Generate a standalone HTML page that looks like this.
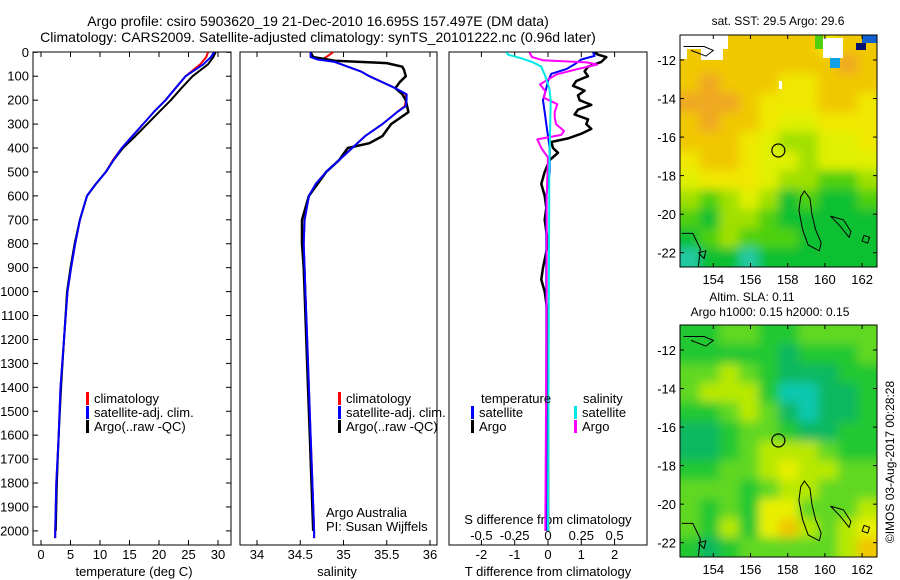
<!DOCTYPE html>
<html><head><meta charset="utf-8"><style>
body{margin:0;background:#fff}
svg{display:block;font-family:"Liberation Sans",sans-serif}
</style></head><body>
<svg id="c" width="900" height="580" viewBox="0 0 900 580">
<defs>
<filter id="blur" x="-10%" y="-10%" width="120%" height="120%"><feGaussianBlur stdDeviation="5"/></filter>
<clipPath id="clipTop"><rect x="680" y="35" width="197" height="232"/></clipPath>
<clipPath id="clipBot"><rect x="680" y="325" width="197" height="232"/></clipPath>
</defs>
<g id="root"></g>
</svg>
<script>
// ---- data ----
const tDepth=[0,20,50,100,150,200,250,300,350,400,450,500,550,600,700,800,900,1000,1200,1400,1600,1800,2000,2030];
const tClim=[28.3,28.0,27.0,24.5,22.8,21.1,19.1,17.3,15.5,13.7,12.2,11,9.3,7.8,6.6,5.8,5.1,4.5,3.9,3.3,3.0,2.6,2.4,2.4];
const tSat=[29.3,28.8,27.5,24.5,22.8,21.1,19.1,17.3,15.5,13.7,12.3,11,9.3,7.8,6.6,5.8,5.1,4.5,3.9,3.3,3.0,2.6,2.4,2.4];
const tArgo=[29.6,29.2,28.3,25.7,23.8,22,20,18,16,13.9,12.3,11,9.3,7.8,6.6,5.7,5.0,4.4,3.9,3.4,3.0,2.7,2.5];
const sDepth=[0,20,30,40,60,80,100,125,150,175,200,225,250,300,350,400,450,500,550,600,700,800,900,1000,1200,1400,1600,1800,2000,2030];
const sClim=[34.88,34.8,34.75,34.9,35.05,35.2,35.3,35.45,35.6,35.72,35.72,35.71,35.62,35.45,35.25,35.1,34.95,34.8,34.68,34.6,34.55,34.54,34.55,34.56,34.58,34.6,34.62,34.64,34.66,34.66];
const sSat=[34.62,34.62,34.7,34.9,35.05,35.2,35.3,35.45,35.6,35.73,35.73,35.72,35.62,35.45,35.25,35.1,34.95,34.8,34.68,34.6,34.55,34.54,34.55,34.56,34.58,34.6,34.62,34.64,34.66,34.66];
const saDepth=[0,20,35,45,60,75,100,125,150,175,200,250,300,350,380,400,450,500,550,600,700,800,900,1000,1200,1400,1600,1800,2000];
const sArgo=[34.62,34.65,34.9,35.5,35.68,35.7,35.72,35.65,35.6,35.68,35.72,35.75,35.55,35.45,35.3,35.05,34.95,34.8,34.7,34.6,34.52,34.52,34.54,34.55,34.57,34.59,34.61,34.63,34.65];
const dtArgoDepth=[0,10,20,40,60,80,100,120,140,160,180,200,220,240,260,280,300,320,340,360,375,400,420,450,500,550,600,650,700,800,900,950,1000,1100,1400,2000];
const dtArgo=[1.4,1.5,1.75,1.6,1.2,1.1,1.2,0.85,0.75,1.1,0.9,0.95,1.3,0.9,0.8,1.2,1.15,1.3,1.0,0.6,0.1,0.15,0.3,0.05,-0.1,-0.2,-0.1,-0.05,-0.1,0,-0.15,-0.2,-0.1,0,0,0];
const dtSatDepth=[0,15,30,50,70,90,120,150,200,250,300,400,500,600,1000,1500,2000];
const dtSat=[1.35,1.4,1.0,0.8,0.55,0.1,0,-0.05,-0.15,-0.1,-0.05,0.05,0.05,-0.05,-0.05,-0.05,-0.05];
const dsSatDepth=[0,10,25,40,60,100,150,200,500,2000];
const dsSat=[-0.31,-0.3,-0.2,-0.12,-0.05,-0.02,0.01,0.02,0.01,0];
const dsArgoDepth=[0,20,33,42,51,70,92,134,162,190,217,250,273,300,329,345,364,400,440,600,1000,2000];
const dsArgo=[-0.14,-0.12,-0.04,0.29,0.37,0.22,0.065,-0.06,-0.02,-0.03,0.07,0.05,0.05,0.06,0.12,0.1,-0.08,-0.05,0,-0.01,-0.01,-0.02];
const depthTicks=[0,100,200,300,400,500,600,700,800,900,1000,1100,1200,1300,1400,1500,1600,1700,1800,1900,2000];
const tTicks=[0,5,10,15,20,25,30];
const sTicks=[34,34.5,35,35.5,36];
const dTTicks=[-2,-1,0,1,2];
const dSTicks=[-0.5,-0.25,0,0.25,0.5];
const lonTicks=[154,156,158,160,162];
const latTicks=[-12,-14,-16,-18,-20,-22];
const sstGrid=[
[6,6,6,6,6,6,6,5,6,6],[6,6,6,6,6,6,6,6,7,6],[6,7,6,6,6,5,5,6,6,6],[7,7,7,6,5,5,5,6,6,5],
[6,7,6,6,5,4,4,5,5,5],[6,6,6,5,4,3,3,4,4,5],[5,6,6,5,4,4,3,4,4,4],[4,5,5,5,4,3,3,2,2,3],
[3,2,3,4,3,1,2,1,1,2],[2,1,3,3,2,1,1,1,1,1],[1,2,3,2,2,2,1,1,1,1],[0,1,1,0,1,1,1,1,1,1]];
const slaGrid=[
[2,2,3,3,2,2,3,3,3,3],[2,2,2,2,2,1,2,2,2,3],[3,3,4,3,2,1,1,1,2,2],[3,4,4,4,2,0,0,1,1,2],
[2,2,3,4,3,1,0,1,1,2],[1,1,2,3,3,2,1,1,2,2],[1,1,2,3,4,4,4,3,2,2],[2,2,3,3,4,5,4,4,3,3],
[3,3,3,2,3,4,4,3,3,3],[3,2,3,2,5,5,3,3,3,4],[3,2,4,2,5,6,4,3,4,5],[2,1,2,3,3,3,3,3,4,6]];
const sstColors=["#20c8a0","#10c030","#50d010","#a0e000","#e0f000","#f0e800","#f0c800","#f0a820"];
const slaColors=["#10c8b0","#10b860","#20c830","#60d820","#b8e800","#e8f000","#f0c800"];
const profLat=-16.695, profLon=157.497;

// ---- drawing ----
const NS="http://www.w3.org/2000/svg";
const root=document.getElementById('root');
function mk(tag,attrs,parent){const e=document.createElementNS(NS,tag);for(const k in attrs)e.setAttribute(k,attrs[k]);(parent||root).appendChild(e);return e;}
function txt(x,y,s,anchor,size,parent){const e=mk('text',{x:x,y:y,'text-anchor':anchor||'middle','font-size':size||13,fill:'#000'},parent);e.textContent=s;return e;}
const Y=d=>52.3+d*0.2393;
const PB=545;
const xT=v=>41+v*5.9;
const xS=v=>257+(v-34)*86.5;
const xdT=v=>548+v*33.3;
const xdS=v=>548+v*133.2;

function frame(x0,x1,name){const r=mk('rect',{x:x0,y:52,width:x1-x0,height:PB-52,fill:'none',stroke:'#000','stroke-width':1});}
function line(depths,vals,xf,color,w,name){
  const pts=depths.map((d,i)=>xf(vals[i]).toFixed(1)+','+Y(d).toFixed(1)).join(' ');
  const p=mk('polyline',{points:pts,fill:'none',stroke:color,'stroke-width':w,'stroke-linejoin':'round'});
  
}
function xticks(ticks,xf,yLab,name,top){
  const g=mk('g',{});
  ticks.forEach(t=>{const x=xf(t);
    mk('line',{x1:x,x2:x,y1:PB,y2:PB-5,stroke:'#000'},g);
    if(top)mk('line',{x1:x,x2:x,y1:52,y2:57,stroke:'#000'},g);
    txt(x,yLab,String(t),'middle',13,g);});
}
// panel 1
frame(33,231,'temperature-panel');
const yg=mk('g',{});
depthTicks.forEach(d=>{const y=Y(d);mk('line',{x1:33,x2:38,y1:y,y2:y,stroke:'#000'},yg);mk('line',{x1:226,x2:231,y1:y,y2:y,stroke:'#000'},yg);txt(29,y+4.5,String(d),'end',13,yg);});
xticks(tTicks,xT,559,'temperature-x-axis',true);
line(tDepth,tClim,xT,'#ff0000',2,'temp-climatology-line');
line(tDepth.slice(0,tArgo.length),tArgo,xT,'#000',2,'temp-argo-line');
line(tDepth,tSat,xT,'#0000ff',2,'temp-satellite-line');
txt(134,576,'temperature (deg C)','middle',13);
// panel 2
frame(240,437,'salinity-panel');
xticks(sTicks,xS,559,'salinity-x-axis',true);
line(sDepth,sClim,xS,'#ff0000',2,'sal-climatology-line');
line(saDepth,sArgo,xS,'#000',2.5,'sal-argo-line');
line(sDepth,sSat,xS,'#0000ff',2,'sal-satellite-line');
txt(337,576,'salinity','middle',13);
// panel 3
frame(449,647,'difference-panel');
xticks(dTTicks,xdT,559,'t-difference-x-axis',true);
const sg=mk('g',{});
dSTicks.forEach(t=>txt(xdS(t),540,String(t),'middle',13,sg));
txt(548,524,'S difference from climatology','middle',13);
txt(548,576,'T difference from climatology','middle',13);
line(dtArgoDepth,dtArgo,xdT,'#000',2.5,'t-diff-argo-line');
line(dtSatDepth,dtSat,xdT,'#0000ff',2,'t-diff-satellite-line');
line(dsArgoDepth,dsArgo,xdS,'#ff00ff',2,'s-diff-argo-line');
line(dsSatDepth,dsSat,xdS,'#00e8e8',2,'s-diff-satellite-line');
// legends
function legend(x,y,color,label,name){const g=mk('g',{});
  mk('rect',{x:x,y:y-11,width:3,height:13,fill:color},g);txt(x+8,y,label,'start',13,g);}
legend(86,403,'#ff0000','climatology','legend-temp-climatology');
legend(86,417,'#0000ff','satellite-adj. clim.','legend-temp-satellite');
legend(86,431,'#000','Argo(..raw -QC)','legend-temp-argo');
legend(338,403,'#ff0000','climatology','legend-sal-climatology');
legend(338,417,'#0000ff','satellite-adj. clim.','legend-sal-satellite');
legend(338,431,'#000','Argo(..raw -QC)','legend-sal-argo');
txt(481,403,'temperature','start',13);
txt(583,403,'salinity','start',13);
legend(471,417,'#0000ff','satellite','legend-tdiff-satellite');
legend(471,431,'#000','Argo','legend-tdiff-argo');
legend(574,417,'#00e8e8','satellite','legend-sdiff-satellite');
legend(574,431,'#ff00ff','Argo','legend-sdiff-argo');
txt(326,517,'Argo Australia','start',13);
txt(326,531,'PI: Susan Wijffels','start',13);
// titles
txt(318,26,'Argo profile: csiro 5903620_19 21-Dec-2010 16.695S 157.497E (DM data)','middle',14);
txt(318,42,'Climatology: CARS2009. Satellite-adjusted climatology: synTS_20101222.nc (0.96d later)','middle',14);

// maps
function map(y0,grid,colors,name,clip,whites){
  const x0=680,w=197,h=232;
  const g=mk('g',{});
  const field=mk('g',{'clip-path':'url(#'+clip+')'},g);
  const blurred=mk('g',{filter:'url(#blur)'},field);
  const nr=grid.length,nc=grid[0].length;
  const cw=w/nc,ch=h/nr;
  grid.forEach((row,r)=>row.forEach((v,c)=>{
    let x=x0+c*cw,y=y0+r*ch,ww=cw+0.5,hh=ch+0.5;
    if(c===0){x-=15;ww+=15;} if(c===nc-1)ww+=15;
    if(r===0){y-=15;hh+=15;} if(r===nr-1)hh+=15;
    mk('rect',{x:x,y:y,width:ww,height:hh,fill:colors[v]},blurred);}));
  (whites||[]).forEach(b=>mk('rect',{x:b[0],y:b[1],width:b[2],height:b[3],fill:b[4]||'#fff'},field));
  const LX=l=>713.3+(l-154)*18.6, LY=la=>y0+25+(-12-la)*19.27;
  const coasts=[[[158.7,-19.1],[158.9,-18.8],[159.2,-19.2],[159.3,-20],[159.5,-20.8],[159.8,-21.5],[159.7,-21.9],[159.1,-21.6],[158.8,-20.8],[158.6,-19.8],[158.7,-19.1]],
   [[160.3,-20.1],[161.0,-20.3],[161.4,-20.9],[161.3,-21.2],[160.8,-20.6],[160.3,-20.1]],
   [[152.3,-21.0],[152.9,-21.0],[153.3,-21.8],[153.2,-22.7]],
   [[153.2,-22.0],[153.6,-21.9],[153.5,-22.3],[153.2,-22.0]],
   [[162.1,-21.1],[162.4,-21.2],[162.3,-21.5],[162.0,-21.4],[162.1,-21.1]],
   [[152.4,-11.3],[153.5,-11.3],[154.0,-11.5],[153.6,-11.8],[152.8,-11.5]]];
  coasts.forEach(c=>mk('polyline',{points:c.map(p=>LX(p[0]).toFixed(1)+','+LY(p[1]).toFixed(1)).join(' '),fill:'none',stroke:'#000','stroke-width':1},g));
  const circ=mk('circle',{cx:LX(profLon),cy:LY(profLat),r:6.5,fill:'none',stroke:'#000','stroke-width':1.2},g);
  
  mk('rect',{x:x0,y:y0,width:w,height:h,fill:'none',stroke:'#000'},g);
  lonTicks.forEach(l=>{const x=LX(l);mk('line',{x1:x,x2:x,y1:y0,y2:y0+4,stroke:'#000'},g);mk('line',{x1:x,x2:x,y1:y0+h,y2:y0+h-4,stroke:'#000'},g);txt(x,y0+h+17,String(l),'middle',13,g);});
  latTicks.forEach(la=>{const y=LY(la);mk('line',{x1:x0,x2:x0+4,y1:y,y2:y,stroke:'#000'},g);mk('line',{x1:x0+w,x2:x0+w-4,y1:y,y2:y,stroke:'#000'},g);txt(676,y+5,String(la),'end',13,g);});
}
map(35,sstGrid,sstColors,'sst-map','clipTop',[[680,35,48,14],[680,49,7,10],[701,49,22,11],[823,38,20,20],[815,35,8,14,'#50d010'],[862,35,15,8,'#1060d0'],[856,43,10,7,'#001070'],[830,58,10,10,'#10a0e8'],[779,81,3,8]]);
map(325,slaGrid,slaColors,'sla-map','clipBot',[]);
txt(778,25,'sat. SST: 29.5 Argo: 29.6','middle',12);
txt(752,301,'Altim. SLA: 0.11','middle',12);
txt(770,316,'Argo h1000: 0.15 h2000: 0.15','middle',12);
const cr=txt(0,0,'©IMOS 03-Aug-2017 00:28:28','middle',12);
cr.setAttribute('transform','translate(894,462) rotate(-90)');

</script>
</body></html>
